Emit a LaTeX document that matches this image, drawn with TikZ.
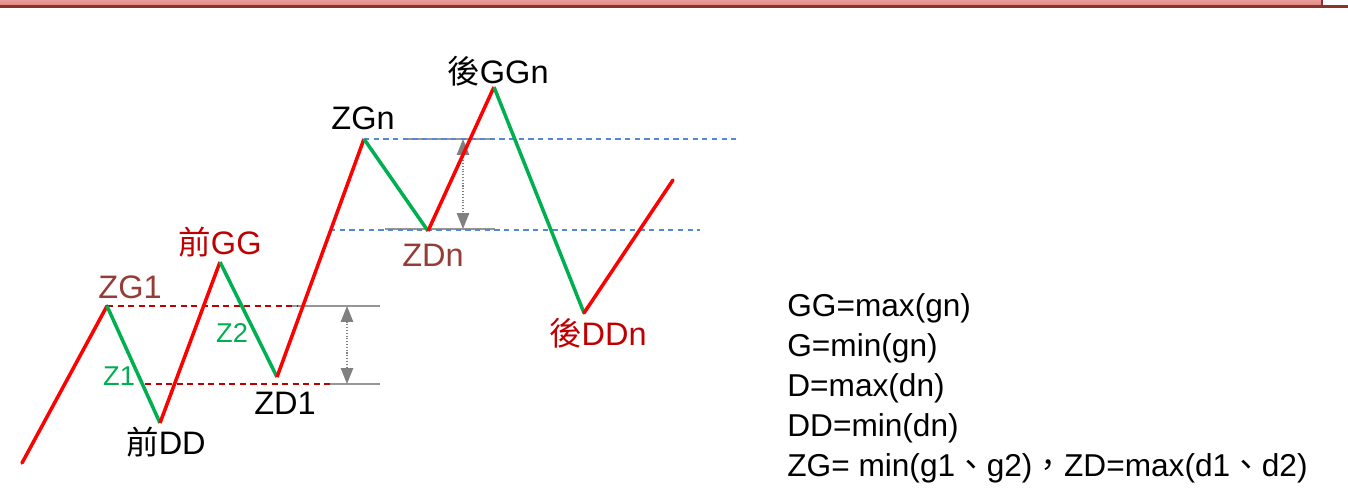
\documentclass[tikz,border=0pt]{standalone}
\usepackage{fontspec}
\setmainfont{Liberation Sans}
\newfontfamily\cjk{Noto Sans CJK TC}
\usetikzlibrary{arrows.meta}
\definecolor{upred}{RGB}{255,0,0}
\definecolor{downgreen}{RGB}{0,176,80}
\definecolor{darkred}{RGB}{192,0,0}
\definecolor{brownred}{RGB}{150,60,55}
\definecolor{dotblue}{RGB}{85,135,215}
\definecolor{guidegray}{RGB}{150,150,150}
\definecolor{barpink}{RGB}{228,132,126}
\definecolor{barline}{RGB}{140,50,45}

\begin{document}
\begin{tikzpicture}[
    x=0.02cm, y=-0.02cm,
    up/.style={line width=2pt, color=upred},
    down/.style={line width=2pt, color=downgreen},
    lvlred/.style={dash pattern=on 3.5pt off 2.5pt, line width=1.4pt, color=darkred},
    lvlblue/.style={dash pattern=on 3pt off 2.5pt, line width=1.3pt, color=dotblue},
    guide/.style={line width=0.6pt, color=guidegray},
    span/.style={{Triangle[width=7pt,length=9pt]}-{Triangle[width=7pt,length=9pt]},
                 densely dotted, line width=0.6pt, color=guidegray!85!black},
    lbl/.style={inner sep=0pt, font=\fontsize{18.5}{22}\selectfont},
    zlbl/.style={inner sep=0pt, font=\fontsize{15.5}{18}\selectfont, text=downgreen}
]
\useasboundingbox (0,0) rectangle (1348,494);

% title bar
\shade[top color=barpink!80!white, bottom color=barpink] (0,0) rectangle (1322,6);
\draw[barline, line width=1.2pt] (0,6.5) -- (1348,6.5);
\draw[barline, line width=1.2pt] (1322,0) -- (1322,6.5);

% turning points
\coordinate (start) at (22,463);
\coordinate (zg1) at (107,306);
\coordinate (qdd) at (160,423);
\coordinate (qgg) at (220,262);
\coordinate (zd1) at (277,377);
\coordinate (zgn) at (364,139);
\coordinate (zdn) at (428,231);
\coordinate (hggn) at (494,87);
\coordinate (hddn) at (584,313);
\coordinate (stop) at (673,180);

% level lines
\coordinate (zg1end) at (298,306);
\coordinate (zd1beg) at (145,384);
\coordinate (zd1end) at (333,384);
\draw[guide] (290,306) -- (380,306);
\draw[guide] (325,384) -- (380,384);
\draw[lvlred] (zg1) -- (zg1end);
\draw[lvlred] (zd1beg) -- (zd1end);
\draw[guide] (405,139) -- (495,139);
\draw[guide] (385,229) -- (495,229);
\coordinate (zgnend) at (738,139);
\coordinate (zdnbeg) at (330,230);
\coordinate (zdnend) at (700,230);
\draw[lvlblue] (zgn) -- (zgnend);
\draw[lvlblue] (zdnbeg) -- (zdnend);

% ranges
\coordinate (r1top) at (347,306);
\coordinate (r1bot) at (347,384);
\coordinate (r2top) at (463,139);
\coordinate (r2bot) at (463,229);
\draw[span] (r1top) -- (r1bot);
\draw[span] (r2top) -- (r2bot);

% zigzag
\draw[up, line cap=round] (start) -- (zg1);
\draw[down] (zg1) -- (qdd);
\draw[up] (qdd) -- (qgg);
\draw[down] (qgg) -- (zd1);
\draw[up] (zd1) -- (zgn);
\draw[down] (zgn) -- (zdn);
\draw[up] (zdn) -- (hggn);
\draw[down] (hggn) -- (hddn);
\draw[up, line cap=round] (hddn) -- (stop);

% labels
\node[lbl, text=brownred] (tzg1) at (130,287) {ZG1};
\node[zlbl] (tz1) at (119,376) {Z1};
\node[zlbl] (tz2) at (232,333) {Z2};
\node[lbl] (tqdd) at (166,442) {{\cjk 前}DD};
\node[lbl, text=darkred] (tqgg) at (220,242) {{\cjk 前}GG};
\node[lbl] (tzd1) at (285,403) {ZD1};
\node[lbl] (tzgn) at (363,118) {ZGn};
\node[lbl, text=brownred] (tzdn) at (433,255) {ZDn};
\node[lbl] (thggn) at (498,71) {{\cjk 後}GGn};
\node[lbl, text=darkred] (thddn) at (598,333) {{\cjk 後}DDn};

% definitions
\node[inner sep=0pt, anchor=west, align=left,
      font=\fontsize{18}{22.76}\selectfont] (defs) at (787,388)
  {GG=max(gn)\\
   G=min(gn)\\
   D=max(dn)\\
   DD=min(dn)\\
   ZG= min(g1{\cjk 、}g2){\cjk ，}ZD=max(d1{\cjk 、}d2)};
\end{tikzpicture}
\end{document}
